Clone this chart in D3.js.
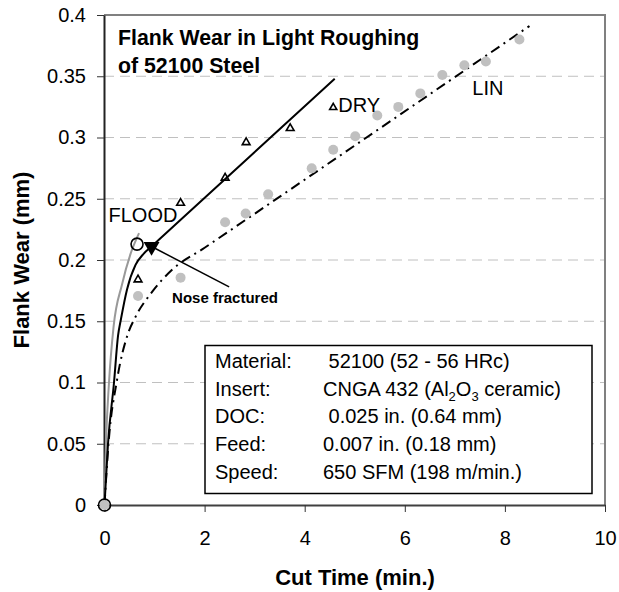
<!DOCTYPE html>
<html><head><meta charset="utf-8">
<script src="https://cdn.jsdelivr.net/npm/d3@7"></script>
<style>
body{margin:0;background:#fff}
svg{display:block;font-family:"Liberation Sans",Arial,sans-serif}
</style></head><body>
<svg id="chart" width="619" height="592"></svg>
<script>
// ---- data ----
const xTicks = [0, 2, 4, 6, 8, 10];
const xTickLabels = ["0", "2", "4", "6", "8", "10"];
const yTicks = [0, 0.05, 0.1, 0.15, 0.2, 0.25, 0.3, 0.35, 0.4];
const yTickLabels = ["0", "0.05", "0.1", "0.15", "0.2", "0.25", "0.3", "0.35", "0.4"];
const gridValues = [0.05, 0.1, 0.15, 0.2, 0.25, 0.3, 0.35];

const dryTime = [0.67, 1.52, 2.41, 2.83, 3.71];
const dryWear = [0.184, 0.2465, 0.267, 0.296, 0.3075];

const linTime = [0, 0.67, 1.52, 2.41, 2.82, 3.27, 4.14, 4.57, 5.01, 5.45, 5.87, 6.31, 6.75, 7.19, 7.62, 8.29];
const linWear = [0, 0.1706, 0.1856, 0.2308, 0.238, 0.2536, 0.2748, 0.290, 0.301, 0.318, 0.325, 0.336, 0.351, 0.359, 0.362, 0.380];

const floodTime = [0, 0.65];
const floodWear = [0, 0.213];

const fractureTime = [0.94];
const fractureWear = [0.211];

const dryFitTime = [0, 0.07, 0.19, 0.27, 0.33, 0.45, 0.62, 0.78, 0.94, 1.5, 4.6];
const dryFitWear = [0, 0.05, 0.10, 0.138, 0.152, 0.176, 0.196, 0.205, 0.211, 0.232, 0.348];

const linFitTime = [0, 0.08, 0.25, 0.47, 0.6, 0.97, 1.35, 2.0, 8.49];
const linFitWear = [0, 0.05, 0.102, 0.14, 0.152, 0.175, 0.192, 0.21, 0.391];

const floodFitTime = [0, 0.03, 0.09, 0.18, 0.35, 0.52, 0.69];
const floodFitWear = [0, 0.05, 0.10, 0.145, 0.18, 0.205, 0.222];

const titleLines = ["Flank Wear in Light Roughing", "of 52100 Steel"];
const infoLabels = ["Material:", "Insert:", "DOC:", "Feed:", "Speed:"];
const infoValues = [" 52100 (52 - 56 HRc)", "CNGA 432 (Al2O3 ceramic)", " 0.025 in. (0.64 mm)", "0.007 in. (0.18 mm)", "650 SFM (198 m/min.)"];
const xTitle = "Cut Time (min.)";
const yTitle = "Flank Wear (mm)";

// ---- layout ----
const svg = d3.select("#chart");
const L = 104, R = 605, T = 15, B = 505;
const x = d3.scaleLinear().domain([0, 10]).range([L + 0.5, R]);
const y = d3.scaleLinear().domain([0, 0.4]).range([B, T]);

// gridlines
svg.append("g").selectAll("line").data(gridValues).join("line")
  .attr("x1", L).attr("x2", R)
  .attr("y1", d => y(d)).attr("y2", d => y(d))
  .attr("stroke", "#c0c0c0").attr("stroke-width", 1)
  .attr("stroke-dasharray", "10,6");

// top & right border
svg.append("path")
  .attr("d", `M${L},${T}H${R}V${B}`)
  .attr("fill", "none").attr("stroke", "#808080").attr("stroke-width", 2);

// axes
const yAxis = svg.append("g").attr("transform", `translate(${L},0)`)
  .call(d3.axisLeft(y).tickValues(yTicks).tickFormat((d, i) => yTickLabels[i])
    .tickSize(7).tickSizeOuter(0).tickPadding(11));
const xAxis = svg.append("g").attr("transform", `translate(0,${B})`)
  .call(d3.axisBottom(x).tickValues(xTicks).tickFormat((d, i) => xTickLabels[i])
    .tickSize(7).tickSizeOuter(0).tickPadding(19));
[yAxis, xAxis].forEach(g => {
  g.select(".domain").attr("stroke", "#222").attr("stroke-width", 2);
  g.selectAll(".tick line").attr("stroke", "#333").attr("stroke-width", 1);
  g.selectAll(".tick text").attr("font-size", 20).attr("fill", "#000")
    .attr("font-family", "Liberation Sans, Arial, sans-serif");
});
xAxis.select(".domain").attr("stroke", "#404040");

// axis titles
svg.append("text").attr("x", 355).attr("y", 585).attr("text-anchor", "middle")
  .attr("font-size", 22).attr("font-weight", "bold").text(xTitle);
svg.append("text").attr("transform", `translate(29,${(T + B) / 2}) rotate(-90)`)
  .attr("text-anchor", "middle").attr("font-size", 22).attr("font-weight", "bold").text(yTitle);

// fit curves
const zip = (a, b) => a.map((v, i) => [v, b[i]]);
const line = d3.line().x(d => x(d[0])).y(d => y(d[1])).curve(d3.curveMonotoneX);

svg.append("path").datum(zip(floodFitTime, floodFitWear)).attr("d", line)
  .attr("fill", "none").attr("stroke", "#999").attr("stroke-width", 2);
svg.append("path").datum(zip(linFitTime, linFitWear)).attr("d", line)
  .attr("fill", "none").attr("stroke", "#000").attr("stroke-width", 2)
  .attr("stroke-dasharray", "10,5,2,5");
svg.append("path").datum(zip(dryFitTime, dryFitWear)).attr("d", line)
  .attr("fill", "none").attr("stroke", "#000").attr("stroke-width", 2);

// LIN points
svg.append("g").selectAll("circle").data(zip(linTime, linWear)).join("circle")
  .attr("cx", d => x(d[0])).attr("cy", d => y(d[1])).attr("r", 5)
  .attr("fill", "#c0c0c0");

// DRY points (open triangles)
const triSmall = d3.symbol().type(d3.symbolTriangle).size(26);
svg.append("g").selectAll("path").data(zip(dryTime, dryWear)).join("path")
  .attr("transform", d => `translate(${x(d[0])},${y(d[1])})`)
  .attr("d", triSmall).attr("fill", "none").attr("stroke", "#000").attr("stroke-width", 1.6);

// FLOOD points (open circles)
svg.append("g").selectAll("circle").data(zip(floodTime, floodWear)).join("circle")
  .attr("cx", d => x(d[0])).attr("cy", d => y(d[1])).attr("r", 6)
  .attr("fill", "none").attr("stroke", "#000").attr("stroke-width", 1.6);

// fracture point (filled down triangle)
svg.append("g").selectAll("path").data(zip(fractureTime, fractureWear)).join("path")
  .attr("transform", d => `translate(${x(d[0])},${y(d[1])}) rotate(180)`)
  .attr("d", d3.symbol().type(d3.symbolTriangle).size(110)).attr("fill", "#000");

// Nose fractured annotation
svg.append("line")
  .attr("x1", x(fractureTime[0])).attr("y1", y(fractureWear[0]))
  .attr("x2", x(2.49)).attr("y2", y(0.178))
  .attr("stroke", "#000").attr("stroke-width", 1.5);
svg.append("text").attr("x", x(1.35)).attr("y", y(0.165))
  .attr("font-size", 15).attr("font-weight", "bold").text("Nose fractured");

// series labels
svg.append("text").attr("x", x(0.08)).attr("y", y(0.2313)).attr("font-size", 20).text("FLOOD");
svg.append("text").attr("x", x(7.35)).attr("y", y(0.3347)).attr("font-size", 20).text("LIN");
svg.append("path").attr("transform", `translate(${x(4.57)},${y(0.3245)})`)
  .attr("d", d3.symbol().type(d3.symbolTriangle).size(22))
  .attr("fill", "none").attr("stroke", "#000").attr("stroke-width", 1.6);
svg.append("text").attr("x", x(4.67)).attr("y", y(0.321)).attr("font-size", 20).text("DRY");

// title
svg.append("g").selectAll("text").data(titleLines).join("text")
  .attr("x", 118).attr("y", (d, i) => 45 + i * 28)
  .attr("font-size", 21.3).attr("font-weight", "bold").text(d => d);

// info box
svg.append("rect").attr("x", 205).attr("y", 345.5).attr("width", 387).attr("height", 148)
  .attr("fill", "#fff").attr("stroke", "#000").attr("stroke-width", 1.5);
const info = svg.append("g");
infoLabels.forEach((lab, i) => {
  const yy = 368 + i * 27.7;
  info.append("text").attr("x", 215).attr("y", yy).attr("font-size", 20).text(lab);
  const t = info.append("text").attr("x", 323).attr("y", yy).attr("font-size", 20)
    .style("white-space", "pre");
  const v = infoValues[i];
  const m = v.match(/^(.*?)Al2O3(.*)$/);
  if (m) {
    t.append("tspan").text(m[1] + "Al");
    t.append("tspan").attr("dy", 5).attr("font-size", 13).text("2");
    t.append("tspan").attr("dy", -5).text("O");
    t.append("tspan").attr("dy", 5).attr("font-size", 13).text("3");
    t.append("tspan").attr("dy", -5).text(m[2]);
  } else {
    t.text(v);
  }
});
</script>
</body></html>
